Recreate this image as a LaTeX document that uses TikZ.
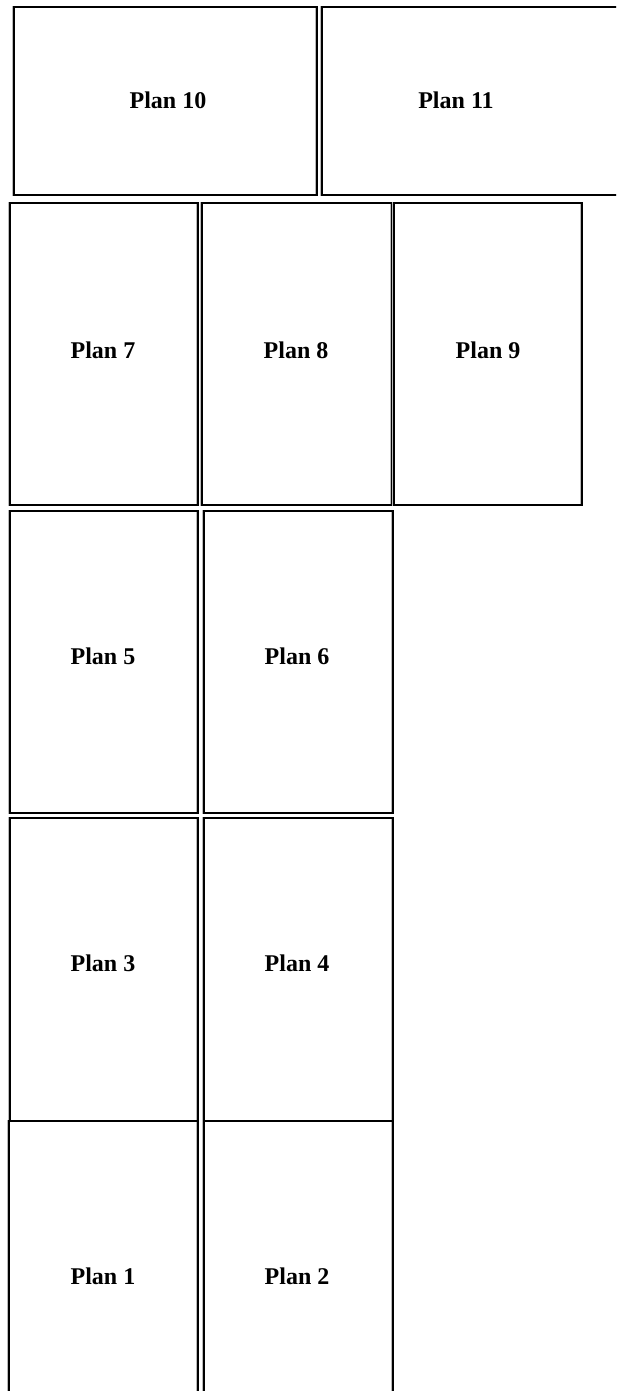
\documentclass[tikz,border=0pt]{standalone}
\usepackage{fontspec}
\setmainfont{Liberation Serif}
\begin{document}
\begin{tikzpicture}[x=1pt,y=-1pt,
  box/.style={draw=black, line width=1.6pt, fill=none, inner sep=0pt, outer sep=0pt,
    preaction={draw=gray!55, line width=1.6pt, transform canvas={xshift=-1pt}}},
  lbl/.style={font=\fontsize{24}{28}\selectfont\bfseries, inner sep=0pt}]
\useasboundingbox (0,0) rectangle (616,1391);
\begin{scope}
\clip (0,0) rectangle (616,1391);
% boxes
\draw[box] (14,7) rectangle (317,195);
\draw[box] (322,7) rectangle (640,195);
\draw[box] (10,203) rectangle (198,505);
\draw[box] (202,203) rectangle (392,505);
\draw[box] (394,203) rectangle (582,505);
\draw[box] (10,511) rectangle (198,813);
\draw[box] (204,511) rectangle (393,813);
\draw[box] (10,818) rectangle (198,1121);
\draw[box] (204,818) rectangle (393,1121);
\draw[box] (9,1121) rectangle (198,1430);
\draw[box] (204,1121) rectangle (393,1430);
\end{scope}
% labels
\node[lbl] (t10) at (168,100) {Plan 10};
\node[lbl] (t11) at (456,100) {Plan 11};
\node[lbl] (t7) at (103,350) {Plan 7};
\node[lbl] (t8) at (296,350) {Plan 8};
\node[lbl] (t9) at (488,350) {Plan 9};
\node[lbl] (t5) at (103,656) {Plan 5};
\node[lbl] (t6) at (297,656) {Plan 6};
\node[lbl] (t3) at (103,963) {Plan 3};
\node[lbl] (t4) at (297,963) {Plan 4};
\node[lbl] (t1) at (103,1276) {Plan 1};
\node[lbl] (t2) at (297,1276) {Plan 2};
\end{tikzpicture}
\end{document}
